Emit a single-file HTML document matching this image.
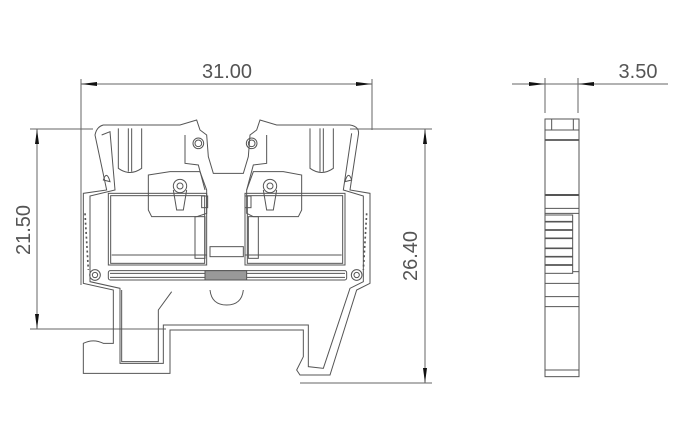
<!DOCTYPE html>
<html><head><meta charset="utf-8"><style>
html,body{margin:0;padding:0;background:#fff;}
svg{display:block;}
text{font-family:"Liberation Sans",sans-serif;fill:#555;font-size:20px;}
</style></head><body>
<svg width="680" height="440" viewBox="0 0 680 440" xmlns="http://www.w3.org/2000/svg">
<g stroke="#666" stroke-width="1" fill="none">
<line x1="81" y1="79" x2="81" y2="285"/>
<line x1="372" y1="79" x2="372" y2="130"/>
<line x1="81" y1="84" x2="372" y2="84"/>
<line x1="30" y1="129" x2="93" y2="129"/>
<line x1="30" y1="329" x2="166" y2="329"/>
<line x1="37" y1="129" x2="37" y2="329"/>
<line x1="350" y1="129" x2="432" y2="129"/>
<line x1="300" y1="383" x2="432" y2="383"/>
<line x1="425" y1="129" x2="425" y2="383"/>
<line x1="512" y1="84" x2="668" y2="84"/>
<line x1="545" y1="78" x2="545" y2="113"/>
<line x1="578" y1="78" x2="578" y2="113"/>
</g>
<g fill="#111">
<polygon points="81,84 97,82 97,86"/>
<polygon points="372,84 356,82 356,86"/>
<polygon points="37,129 35,144 39,144"/>
<polygon points="37,329 35,314 39,314"/>
<polygon points="425,129 423,144 427,144"/>
<polygon points="425,383 423,368 427,368"/>
<polygon points="545,84 529,82 529,86"/>
<polygon points="578,84 594,82 594,86"/>
</g>
<text x="227" y="78" text-anchor="middle">31.00</text>
<text x="638" y="78" text-anchor="middle">3.50</text>
<text transform="translate(30,230) rotate(-90)" text-anchor="middle">21.50</text>
<text transform="translate(417,256) rotate(-90)" text-anchor="middle">26.40</text>

<g transform="translate(70,110) scale(0.33333)" stroke="#555" stroke-width="3" fill="none">
<path d="M75,75 Q80,50 100,45 L330,45 L380,30 L390,60 L410,75 L415,140 L430,190 L520,190 L535,140 L540,75 L560,60 L570,30 L620,45 L840,45 Q870,50 865,75 L840,240 L900,250 L900,520 L860,540 L780,795 L690,795 L680,780 L700,740 L700,660 L300,660 L300,790 L40,790 L40,700 Q70,685 100,700 L130,700 L130,540 L40,520 L40,250 L110,240 Z"/>
<path d="M95,75 L120,65 L135,240 L60,258 L60,515 L150,535 L150,760 L280,760 L280,645 L715,645 L715,770 L760,775 L840,535 L880,515 L880,258 L820,240 L845,70"/>
<path d="M155,540 L155,755 L265,755 L265,600 L305,545"/>
<path d="M420,540 Q425,585 470,585 Q515,585 520,540"/>
<path d="M145,55 L145,175 Q180,200 215,175 L215,55"/>
<path d="M720,55 L720,175 Q755,200 790,175 L790,55"/>
<line x1="175" y1="55" x2="175" y2="185"/><line x1="185" y1="55" x2="185" y2="185"/>
<line x1="750" y1="55" x2="750" y2="185"/><line x1="760" y1="55" x2="760" y2="185"/>
<path d="M345,75 L345,160 L385,165 L405,240"/>
<path d="M590,75 L590,160 L550,165 L530,240"/>
<circle cx="385" cy="100" r="16"/><circle cx="385" cy="100" r="10"/>
<circle cx="545" cy="100" r="16"/><circle cx="545" cy="100" r="10"/>
<rect x="115" y="250" width="295" height="215"/>
<rect x="122" y="257" width="282" height="203"/>
<rect x="525" y="250" width="300" height="215"/>
<rect x="532" y="257" width="286" height="203"/>
<line x1="125" y1="435" x2="410" y2="435"/>
<line x1="525" y1="435" x2="815" y2="435"/>
<rect x="420" y="410" width="100" height="30"/>
<path d="M235,195 L300,185 L390,185 L410,240 L410,310 L380,320 L245,320 L235,300 Z"/>
<path d="M530,240 L550,185 L640,185 L695,195 L695,300 L685,320 L550,320 L530,310 Z"/>
<circle cx="330" cy="228" r="20"/><circle cx="330" cy="228" r="9"/>
<circle cx="600" cy="228" r="20"/><circle cx="600" cy="228" r="9"/>
<path d="M310,240 L320,300 L340,300 L350,240"/>
<path d="M580,240 L590,300 L610,300 L620,240"/>
<rect x="395" y="258" width="18" height="35"/><rect x="525" y="258" width="18" height="35"/>
<rect x="375" y="320" width="30" height="125"/><rect x="535" y="320" width="30" height="125"/>
<rect x="115" y="482" width="715" height="28" rx="6"/>
<line x1="120" y1="490" x2="825" y2="490"/><line x1="120" y1="502" x2="825" y2="502"/>
<rect x="405" y="482" width="125" height="28" fill="#999" stroke="#555"/>
<circle cx="75" cy="495" r="16"/><circle cx="75" cy="495" r="8"/>
<circle cx="860" cy="495" r="16"/><circle cx="860" cy="495" r="8"/>
<path d="M45,310 L55,480 M890,310 L880,480" stroke-dasharray="6,8" stroke-width="5"/>
<path d="M100,210 Q110,180 120,215 Z M825,215 Q835,180 845,210 Z"/>
</g>

<g transform="translate(500,50) scale(0.33333)" stroke="#555" stroke-width="3" fill="none">
<rect x="135" y="207" width="102" height="773"/>
<rect x="155" y="207" width="65" height="33"/>
<line x1="135" y1="240" x2="237" y2="240"/>
<line x1="135" y1="270" x2="237" y2="270" stroke-width="5"/>
<line x1="135" y1="435" x2="237" y2="435" stroke-width="6"/>
<line x1="135" y1="475" x2="237" y2="475"/>
<line x1="135" y1="490" x2="237" y2="490"/>
<rect x="135" y="495" width="83" height="175"/>
<line x1="218" y1="665" x2="237" y2="665"/>
<g stroke-width="5">
<line x1="135" y1="515" x2="218" y2="515"/><line x1="135" y1="540" x2="218" y2="540"/>
<line x1="135" y1="565" x2="218" y2="565"/><line x1="135" y1="595" x2="218" y2="595"/>
<line x1="135" y1="620" x2="218" y2="620"/><line x1="135" y1="645" x2="218" y2="645"/>
</g>
<line x1="135" y1="700" x2="237" y2="700"/>
<line x1="135" y1="740" x2="237" y2="740"/>
<line x1="135" y1="770" x2="237" y2="770"/>
<line x1="135" y1="960" x2="237" y2="960"/>
</g>
</svg>
</body></html>
